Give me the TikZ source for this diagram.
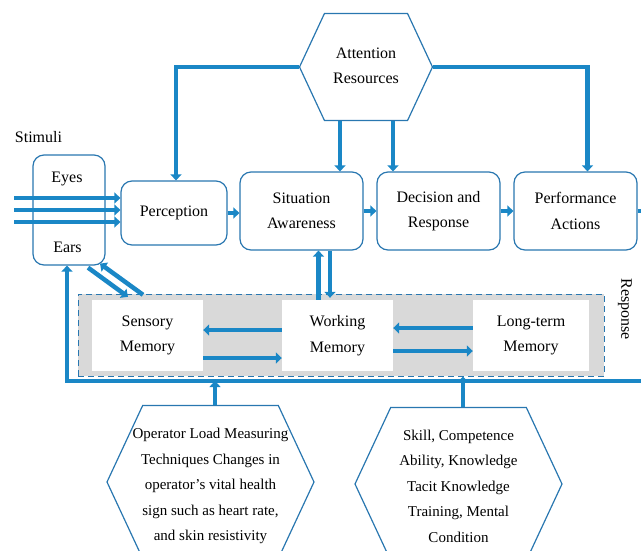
\documentclass[tikz,border=0pt]{standalone}
\usepackage{fontspec}
\setmainfont{Liberation Serif}
\usetikzlibrary{arrows.meta,shapes.symbols}

\definecolor{boxline}{RGB}{41,119,176}
\definecolor{arrowblue}{RGB}{26,135,198}
\definecolor{memgray}{RGB}{217,217,217}

\tikzset{
  txt/.style={font=\fontsize{16}{25.5}\selectfont, align=center, inner sep=0pt},
  smalltxt/.style={txt, font=\fontsize{15}{25.5}\selectfont},
  rbox/.style={txt, draw=boxline, line width=1.2pt, rounded corners=11pt, fill=white},
  hexbox/.style={signal, signal to=west and east, signal pointer angle=130,
    draw=boxline, line width=1.2pt, fill=white, inner sep=0pt},
  membox/.style={txt, fill=white, minimum width=111pt, minimum height=71pt},
  flow/.style={draw=arrowblue, line width=4.5pt, -{Triangle[width=11pt,length=6pt]}},
  pipe/.style={draw=arrowblue, line width=4.5pt},
}

\begin{document}
\begin{tikzpicture}[x=1pt,y=-1pt,line join=miter]
\useasboundingbox (0,0) rectangle (641,550);
% top row
\node[hexbox, minimum width=133pt, minimum height=107pt] (attn) at (366,67) {};
\node[txt] (attntext) at (366,66) {Attention\\Resources};
\node[rbox, minimum width=72pt, minimum height=110pt] (sensebox) at (69,210) {};
\node[txt] (eyes) at (67,179) {Eyes};
\node[txt] (ears) at (67.5,247) {Ears};
\node[txt] (stim) at (38.5,137) {Stimuli};
\node[rbox, minimum width=106pt, minimum height=64pt] (perc) at (174,213) {Perception};
\node[rbox, minimum width=123pt, minimum height=78pt] (sa) at (301.5,211) {Situation\\Awareness};
\node[rbox, minimum width=123pt, minimum height=78pt] (dec) at (438.5,211) {Decision and\\Response};
\node[rbox, minimum width=123pt, minimum height=78pt] (perf) at (575.5,211) {Performance\\Actions};
\node[txt, rotate=-90] (resp) at (625,309) {Response};
% memory block
\node[draw=boxline, line width=1pt, dash pattern=on 6pt off 4pt, fill=memgray,
  minimum width=526pt, minimum height=82pt] (mem) at (341,335) {};
\node[membox] (sensmem) at (147.5,335.5) {Sensory\\Memory};
\node[membox] (workmem) at (337.5,335.5) {Working\\Memory};
\node[membox, minimum width=116pt] (ltmem) at (531,335.5) {Long-term\\Memory};
% bottom hexagons
\node[hexbox, minimum width=207pt, minimum height=153pt] (opload) at (210.5,482) {};
\node[smalltxt] (oploadtext) at (210.5,486)
  {Operator Load Measuring\\Techniques Changes in\\operator’s vital health\\sign such as heart rate,\\and skin resistivity};
\node[hexbox, minimum width=207pt, minimum height=153pt] (skill) at (458.5,484) {};
\node[smalltxt] (skilltext) at (458.5,486)
  {Skill, Competence\\Ability, Knowledge\\Tacit Knowledge\\Training, Mental\\Condition};

% attention resources
\draw[flow] (attn.west) -| ([xshift=2pt]perc.north);
\draw[flow] (attn.east) -| ([xshift=12pt]perf.north);
\draw[flow] ([xshift=-26pt]attn.south) -- ([xshift=-26pt]attn.south |- sa.north);
\draw[flow] ([xshift=27pt]attn.south) -- ([xshift=27pt]attn.south |- dec.north);

% stimuli
\foreach \yy [count=\k] in {198,210,222} {
  \coordinate (in\k) at (14,\yy);
  \draw[flow] (in\k) -- (in\k -| perc.west);
}

% main chain
\draw[flow] (perc.east) -- (perc.east -| sa.west);
\draw[flow] (sa.east) -- (dec.west);
\draw[flow] (dec.east) -- (perf.west);
\draw[pipe] (perf.east) -- ++(8,0);

% situation awareness and working memory
\draw[flow] ([xshift=-19pt]workmem.north) -- ([xshift=-19pt]workmem.north |- sa.south);
\draw[flow] ([xshift=-7.5pt]workmem.north |- sa.south) -- ([xshift=-7.5pt,yshift=2pt]workmem.north);

% memories
\draw[flow] ([yshift=5.5pt]workmem.west) -- ([yshift=5.5pt]workmem.west -| sensmem.east);
\draw[flow] ([yshift=-22.5pt]sensmem.east) -- ([yshift=-22.5pt]sensmem.east -| workmem.west);
\draw[flow] ([yshift=7.5pt]ltmem.west) -- ([yshift=7.5pt]ltmem.west -| workmem.east);
\draw[flow] ([yshift=-15.5pt]workmem.east) -- ([yshift=-15.5pt]workmem.east -| ltmem.west);

% ears and sensory memory
\draw[flow] ([xshift=19pt,yshift=-2pt]sensebox.south) -- ([xshift=-19.5pt,yshift=3pt]sensmem.north);
\draw[flow] ([xshift=-4.5pt,yshift=5pt]sensmem.north) -- ([xshift=31pt,yshift=2pt]sensebox.south);

% feedback
\coordinate (fbend) at (645,381);
\draw[flow] (fbend) -| ([xshift=-2pt]sensebox.south);
\draw[flow] ([xshift=4.5pt]opload.north) -- ([xshift=4.5pt]opload.north |- fbend);
\draw[flow] ([xshift=4.5pt]skill.north) -- ([xshift=4.5pt]skill.north |- mem.south);
\end{tikzpicture}
\end{document}
